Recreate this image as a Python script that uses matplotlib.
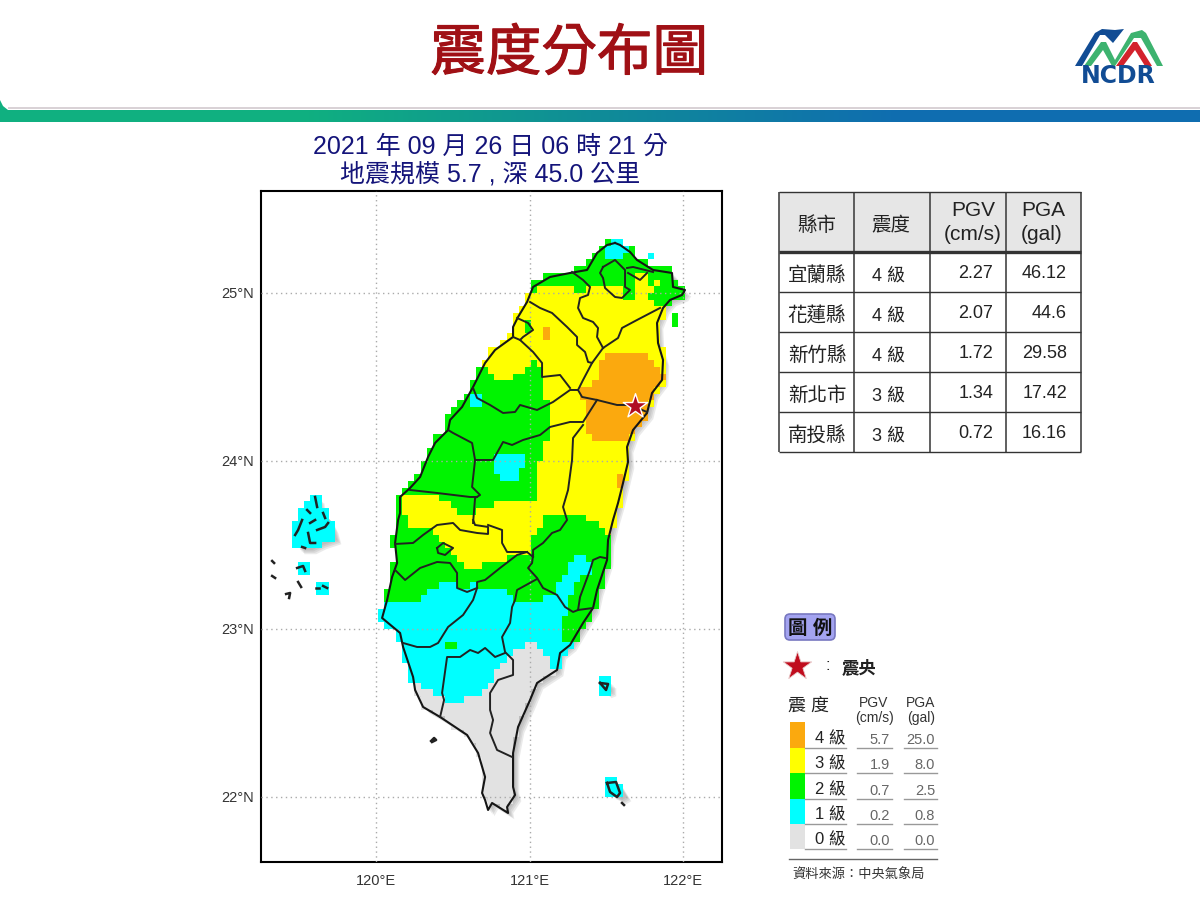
import numpy as np
import matplotlib
matplotlib.use("Agg")
import matplotlib.pyplot as plt
import matplotlib.patheffects as pe
from matplotlib.colors import ListedColormap, LinearSegmentedColormap
from matplotlib.patches import FancyBboxPatch, Polygon, Rectangle
from matplotlib.path import Path

plt.rcParams["font.family"] = ["Liberation Sans", "Noto Sans CJK TC", "DejaVu Sans"]

TITLE = "震度分布圖"
SUB_1 = "2021 年 09 月 26 日 06 時 21 分"
SUB_2 = "地震規模 5.7 , 深 45.0 公里"

TABLE_COUNTY = ["宜蘭縣", "花蓮縣", "新竹縣", "新北市", "南投縣"]
TABLE_LEVEL = ["4 級", "4 級", "4 級", "3 級", "3 級"]
TABLE_PGV = ["2.27", "2.07", "1.72", "1.34", "0.72"]
TABLE_PGA = ["46.12", "44.6", "29.58", "17.42", "16.16"]

LEGEND_LEVEL = ["4 級", "3 級", "2 級", "1 級", "0 級"]
LEGEND_PGV = ["5.7", "1.9", "0.7", "0.2", "0.0"]
LEGEND_PGA = ["25.0", "8.0", "2.5", "0.8", "0.0"]
LEVEL_COLORS = ["#E2E2E2", "#00FFFF", "#00F400", "#FFFF00", "#FBA90E"]

EPICENTER = (121.69, 24.33)

# outlines below as (x, y) pixels, converted to lon/lat later
COAST = [(615, 243), (620, 245), (630, 252), (637, 260), (653, 270), (672, 273), (673, 287),
         (685, 290), (682, 295), (670, 300), (663, 308), (657, 323), (658, 343), (663, 360),
         (662, 380), (652, 393), (647, 413), (633, 430), (627, 447), (628, 462), (623, 483),
         (618, 503), (613, 520), (608, 540), (607, 560), (597, 590), (593, 608), (583, 623),
         (570, 645), (560, 653), (557, 670), (537, 683), (530, 700), (518, 727), (513, 753),
         (513, 787), (515, 795), (507, 807), (508, 813), (500, 808), (492, 803), (488, 810),
         (485, 800), (482, 793), (485, 777), (478, 753), (467, 735), (440, 717), (423, 707),
         (415, 690), (413, 677), (403, 647), (400, 633), (382, 618), (387, 600), (392, 577),
         (397, 563), (395, 543), (398, 520), (400, 513), (400, 497), (410, 488), (420, 477),
         (428, 457), (435, 443), (448, 430), (450, 420), (462, 407), (473, 387), (485, 363),
         (495, 350), (513, 337), (513, 327), (518, 317), (527, 302), (533, 287), (550, 277),
         (570, 273), (587, 270), (597, 253), (607, 245)]

PENGHU = [(313, 497), (318, 497), (320, 510), (327, 517), (332, 527), (335, 538), (320, 543),
          (310, 548), (298, 548), (295, 533), (298, 520), (305, 507)]
GREEN_ISLAND = [(600, 682), (610, 682), (610, 690), (605, 692)]
LANYU = [(607, 782), (617, 782), (625, 795), (620, 798), (610, 793)]
PENGHU_S1 = [(300, 566), (306, 566), (306, 572), (300, 572)]
PENGHU_S2 = [(316, 585), (329, 584), (329, 590), (316, 590)]
OFFSHORE_N = [(649, 256), (652, 256), (652, 260), (649, 260)]
OFFSHORE_E = [(672, 317), (679, 317), (679, 323), (672, 323)]

LEVEL1 = [(370, 683), (415, 683), (420, 688), (442, 697), (450, 702), (460, 700), (477, 695),
          (492, 680), (498, 667), (507, 658), (517, 647), (533, 645), (545, 648), (547, 660),
          (557, 672), (700, 672), (700, 190), (370, 190)]
LEVEL2 = [(370, 598), (387, 602), (400, 605), (417, 605), (423, 595), (433, 590), (438, 585),
          (450, 580), (457, 588), (473, 585), (485, 588), (505, 592), (517, 600), (537, 600),
          (550, 597), (562, 595), (567, 608), (562, 620), (560, 630), (567, 645), (583, 645),
          (700, 630), (700, 190), (370, 190)]
LEVEL3 = [(370, 497), (403, 497), (403, 515), (410, 525), (427, 528), (435, 535), (445, 542),
          (453, 550), (457, 562), (467, 568), (482, 565), (498, 562), (517, 552), (530, 552),
          (533, 540), (540, 527), (547, 515), (570, 513), (587, 517), (600, 527), (610, 537),
          (700, 537), (700, 190), (370, 190)]
GREEN_NW = [(485, 367), (488, 372), (498, 378), (513, 378), (523, 370), (533, 362), (540, 363),
            (545, 377), (545, 400), (552, 407), (552, 427), (547, 433), (545, 460), (540, 463),
            (540, 487), (537, 500), (513, 502), (493, 505), (473, 512), (472, 517), (460, 517),
            (450, 505), (437, 495), (403, 493), (370, 493), (370, 367)]
GREEN_N = [(530, 295), (538, 288), (548, 288), (550, 285), (567, 285), (573, 290), (585, 290),
           (590, 285), (620, 285), (622, 302), (637, 302), (637, 285), (653, 285), (658, 275),
           (658, 285), (650, 293), (648, 298), (660, 307), (690, 302), (690, 230), (530, 230)]
GREEN_SPOT_1 = [(525, 323), (533, 323), (533, 333), (525, 333)]
GREEN_SPOT_2 = [(448, 644), (456, 644), (456, 652), (448, 652)]
YELLOW_SPOT = [(637, 272), (648, 272), (648, 283), (637, 283)]
CYAN_N = [(605, 247), (610, 240), (620, 240), (627, 250), (625, 258), (615, 262), (608, 258)]
CYAN_W = [(472, 395), (479, 395), (479, 408), (472, 408)]
CYAN_C = [(490, 467), (497, 455), (507, 452), (522, 455), (522, 467), (516, 478), (505, 480),
          (495, 475)]
CYAN_SE = [(553, 592), (562, 578), (570, 562), (578, 555), (590, 562), (592, 570), (577, 583),
           (568, 598), (567, 607), (560, 595)]
ORANGE_MAIN = [(607, 355), (648, 355), (658, 367), (665, 373), (664, 380), (650, 400), (647, 415),
               (633, 430), (630, 438), (617, 442), (597, 442), (587, 430), (583, 400), (583, 390),
               (597, 377), (600, 362)]
ORANGE_SPOT = [(545, 329), (552, 329), (552, 337), (545, 337)]
ORANGE_SLIVER = [(618, 472), (625, 472), (625, 487), (618, 487)]

# painted in this order, later ones win
ZONES = [(LEVEL1, 1), (LEVEL2, 2), (LEVEL3, 3), (GREEN_NW, 2), (GREEN_N, 2), (GREEN_SPOT_1, 2),
         (GREEN_SPOT_2, 2), (YELLOW_SPOT, 3), (CYAN_N, 1), (CYAN_W, 1), (CYAN_C, 1),
         (CYAN_SE, 1), (ORANGE_MAIN, 4), (ORANGE_SPOT, 4), (ORANGE_SLIVER, 4)]
# small land bits take one flat level, whatever cell they touch
ISLANDS = [(PENGHU, 1), (PENGHU_S1, 1), (PENGHU_S2, 1), (GREEN_ISLAND, 1), (LANYU, 1),
           (OFFSHORE_N, 1), (OFFSHORE_E, 2)]

BORDERS = [
    [(572, 272), (583, 280), (590, 287), (588, 295), (580, 298), (578, 308), (583, 318), (593, 322),
     (598, 328), (597, 337), (603, 348)],
    [(603, 348), (618, 338), (622, 328), (637, 320), (660, 308)],
    [(530, 302), (540, 308), (552, 313), (567, 327), (577, 337), (577, 345), (585, 352), (588, 362),
     (592, 363), (603, 348)],
    [(517, 318), (528, 323), (533, 330), (523, 337), (520, 340), (533, 352), (542, 363), (542, 377),
     (560, 375), (570, 388)],
    [(513, 337), (520, 340)],
    [(592, 363), (583, 380), (578, 390)],
    [(473, 388), (477, 398), (490, 405), (503, 413), (515, 412), (520, 405), (537, 410), (553, 402),
     (570, 390), (578, 390)],
    [(578, 390), (582, 397), (597, 400), (617, 405), (628, 405), (637, 408), (647, 412)],
    [(597, 400), (583, 422), (570, 422), (550, 427), (540, 435), (523, 440), (512, 445), (503, 442),
     (493, 460), (475, 460), (472, 443), (453, 433), (448, 430)],
    [(583, 425), (573, 438), (572, 460), (568, 490), (563, 507), (567, 520), (560, 530), (552, 533),
     (543, 543), (533, 550), (533, 555)],
    [(475, 460), (472, 487), (480, 495), (475, 498), (473, 523)],
    [(410, 490), (437, 493), (470, 497), (477, 497)],
    [(395, 544), (413, 543), (423, 535), (437, 525), (453, 523), (460, 530), (477, 533), (488, 534),
     (488, 527), (475, 525), (473, 520)],
    [(488, 525), (502, 530), (502, 543), (507, 552), (527, 552), (533, 557)],
    [(437, 548), (443, 543), (453, 548), (445, 555), (438, 553), (437, 548)],
    [(395, 570), (405, 580), (420, 568), (437, 562), (450, 563), (457, 573), (457, 588), (467, 592),
     (477, 588), (477, 582), (485, 580), (500, 568), (517, 555), (527, 552)],
    [(477, 588), (473, 600), (463, 615), (448, 627), (438, 643), (430, 647), (417, 647), (403, 643)],
    [(533, 555), (532, 563), (528, 568), (537, 578), (543, 588), (557, 595), (565, 607), (573, 612),
     (578, 610), (580, 597), (590, 570), (593, 560), (600, 557), (605, 558)],
    [(578, 610), (593, 608)],
    [(537, 579), (517, 590), (515, 600), (512, 607), (510, 623), (502, 637), (505, 652), (513, 660),
     (513, 675), (498, 680), (490, 693), (490, 710), (493, 720), (490, 733), (497, 750), (512, 757)],
    [(440, 717), (444, 700), (442, 693), (447, 657), (460, 657), (470, 650), (478, 653), (485, 648),
     (495, 657), (505, 653)],
    [(603, 267), (615, 260), (625, 270), (625, 287), (630, 290), (622, 298), (615, 297), (605, 288),
     (603, 278), (600, 273), (603, 267)],
    [(627, 268), (633, 267), (653, 272)],
    [(628, 273), (640, 280), (647, 273)],
]
ISLET_LINES = [
    [(315, 497), (317, 507)], [(307, 510), (310, 513)], [(323, 513), (325, 518)],
    [(302, 520), (298, 530), (295, 535)], [(310, 523), (315, 520)], [(308, 533), (310, 543), (315, 543)],
    [(317, 530), (325, 527), (328, 523)], [(302, 547), (305, 548)], [(272, 561), (274, 563)],
    [(297, 568), (303, 566), (305, 571)], [(272, 576), (275, 578)], [(298, 582), (301, 587)],
    [(286, 594), (290, 593), (289, 598)], [(316, 588), (319, 588)], [(323, 586), (327, 588)],
    [(431, 741), (434, 738), (436, 740), (432, 742)], [(600, 683), (608, 684), (606, 690), (600, 683)],
    [(607, 783), (616, 782), (620, 793), (617, 797), (610, 792), (607, 783)], [(622, 803), (624, 805)],
]

LOGO_BLUE = [(1075, 66), (1095, 33), (1102, 29), (1115, 30), (1124, 29), (1113, 43), (1105, 35),
             (1100, 35), (1082, 66)]
LOGO_GREEN = [(1084, 66), (1101, 42), (1106, 42), (1115, 60), (1131, 33), (1142, 30), (1146, 33),
              (1163, 66), (1157, 66), (1141, 38), (1134, 38), (1115, 66), (1112, 66), (1103, 50),
              (1091, 66)]
LOGO_RED = [(1116, 66), (1133, 42), (1137, 42), (1152, 66), (1145, 66), (1135, 50), (1123, 66)]

OFFSETS = [(0, 0), (-0.016, -0.016), (0.016, -0.016), (-0.016, 0.016), (0.016, 0.016)]


def to_lonlat(points):
    pts = np.array(points, dtype=float)
    lon = 120 + (pts[:, 0] - 376) / 153.5
    lat = 25 - (pts[:, 1] - 293) / 168.0
    return np.column_stack([lon, lat])


def touches(poly, centers):
    path = Path(to_lonlat(poly))
    hit = np.zeros(len(centers), dtype=bool)
    for dx, dy in OFFSETS:
        hit |= path.contains_points(centers + [dx, dy])
    return hit


def intensity_grid():
    lons = np.arange(119.25, 122.26, 0.04)
    lats = np.arange(21.6, 25.62, 0.04)
    lon_c, lat_c = np.meshgrid((lons[:-1] + lons[1:]) / 2, (lats[:-1] + lats[1:]) / 2)
    centers = np.column_stack([lon_c.ravel(), lat_c.ravel()])

    level = np.zeros(len(centers))
    for poly, value in ZONES:
        level[Path(to_lonlat(poly)).contains_points(centers)] = value

    # coloured cells spill over the coast a little, the grey ones do not
    inside = Path(to_lonlat(COAST)).contains_points(centers)
    land = inside | (touches(COAST, centers) & (level >= 1))
    for poly, value in ISLANDS:
        hit = touches(poly, centers)
        level[hit] = value
        land |= hit
    return lons, lats, np.ma.masked_where(~land, level).reshape(lon_c.shape)


fig = plt.figure(figsize=(12, 9), dpi=100, facecolor="white")

# page layer in pixel coordinates: header, table, legend
page = fig.add_axes([0, 0, 1, 1])
page.set_xlim(0, 1200)
page.set_ylim(900, 0)
page.axis("off")

band = LinearSegmentedColormap.from_list("band", ["#10B080", "#10B080", "#0F8C98", "#0F6DB0", "#0F6DB0"])
page.imshow(np.linspace(0, 1, 256).reshape(1, -1), cmap=band, extent=(0, 1200, 122, 110), aspect="auto", zorder=1)
page.set_xlim(0, 1200)
page.set_ylim(900, 0)
page.add_patch(Rectangle((8, 107), 1192, 2, color="#D9D2D6", lw=0, zorder=2))
page.add_patch(Polygon([(0, 100), (3, 106), (8, 110), (0, 110)], color="#10B080", lw=0, zorder=1))

page.text(569, 56, TITLE, fontsize=40, color="#A01015", ha="center", va="center",
          path_effects=[pe.withStroke(linewidth=0.8, foreground="#A01015")])
page.text(490, 147, SUB_1, fontsize=18, color="#14147A", ha="center", va="center")
page.text(490, 174, SUB_2, fontsize=18, color="#14147A", ha="center", va="center")

page.add_patch(Polygon(LOGO_BLUE, color="#114C94", lw=0))
page.add_patch(Polygon(LOGO_GREEN, color="#3DB36F", lw=0))
page.add_patch(Polygon(LOGO_RED, color="#D3222C", lw=0))
page.text(1118, 76, "NCDR", fontsize=17, fontweight="bold", family="DejaVu Sans", color="#114C94",
          ha="center", va="center")

# table
col_x = [779, 854, 930, 1006, 1081]
row_y = [192, 252, 292, 332, 372, 412, 452]
page.add_patch(Rectangle((779, 192), 302, 60, color="#E6E6E6", lw=0))
for x in col_x:
    page.plot([x, x], [row_y[0], row_y[-1]], color="#444444", lw=1.2, solid_capstyle="butt")
for y in row_y:
    page.plot([col_x[0], col_x[-1]], [y, y], color="#333333", lw=2.4 if y == 252 else 1.0, solid_capstyle="butt")
page.text(817, 226, "縣市", fontsize=14, ha="center", va="center", color="#222222")
page.text(891, 226, "震度", fontsize=14, ha="center", va="center", color="#222222")
page.text(973, 211, "PGV", fontsize=15, ha="center", va="center", color="#222222")
page.text(973, 235, "(cm/s)", fontsize=15, ha="center", va="center", color="#222222")
page.text(1043, 211, "PGA", fontsize=15, ha="center", va="center", color="#222222")
page.text(1042, 235, "(gal)", fontsize=15, ha="center", va="center", color="#222222")
row_c = [273, 313, 353, 393, 433]
for i in range(5):
    page.text(817, row_c[i] + 3, TABLE_COUNTY[i], fontsize=14, ha="center", va="center", color="#222222")
    page.text(889, row_c[i] + 3, TABLE_LEVEL[i], fontsize=13, ha="center", va="center", color="#222222")
    page.text(993, row_c[i] + 1, TABLE_PGV[i], fontsize=13, ha="right", va="center", color="#222222")
    page.text(1067, row_c[i] + 1, TABLE_PGA[i], fontsize=13, ha="right", va="center", color="#222222")

# legend
page.add_patch(FancyBboxPatch((785, 614), 50, 26, boxstyle="round,pad=0,rounding_size=5", fc="#A3A3F0",
                              ec="#7878C0", lw=1.2))
page.text(810, 629, "圖 例", fontsize=14, fontweight="bold", ha="center", va="center", color="#111111")
page.scatter([797], [666], marker="*", s=460, color="#C00D1E", edgecolor="#E8C8C8", linewidth=0.6)
page.text(828, 666, ":", fontsize=12, ha="center", va="center", color="#222222")
page.text(859, 668, "震央", fontsize=12.5, fontweight="bold", ha="center", va="center", color="#222222")
page.text(809, 706, "震 度", fontsize=13, ha="center", va="center", color="#222222")
page.text(874, 703, "PGV", fontsize=10, ha="center", va="center", color="#333333")
page.text(874, 718, "(cm/s)", fontsize=10, ha="center", va="center", color="#333333")
page.text(921, 703, "PGA", fontsize=10, ha="center", va="center", color="#333333")
page.text(921, 718, "(gal)", fontsize=10, ha="center", va="center", color="#333333")
swatch_y = [722, 748, 773, 799, 824, 849]
for i in range(5):
    color = LEVEL_COLORS[4 - i]
    page.add_patch(Rectangle((790, swatch_y[i]), 15, swatch_y[i + 1] - swatch_y[i], color=color, lw=0))
    y = swatch_y[i + 1]
    page.plot([805, 846], [y, y], color="#999999", lw=1)
    page.plot([857, 892], [y, y], color="#999999", lw=1)
    page.plot([904, 937], [y, y], color="#999999", lw=1)
    page.text(830, y - 9, LEGEND_LEVEL[i], fontsize=12, ha="center", va="center", color="#222222")
    page.text(890, y - 8, LEGEND_PGV[i], fontsize=10.5, ha="right", va="center", color="#666666")
    page.text(935, y - 8, LEGEND_PGA[i], fontsize=10.5, ha="right", va="center", color="#666666")
page.plot([789, 937], [859, 859], color="#666666", lw=1)
page.text(792, 875, "資料來源：中央氣象局", fontsize=9.5, ha="left", va="center", color="#333333")

# map
ax = fig.add_axes([261 / 1200, 1 - 862 / 900, 461 / 1200, 671 / 900])
ax.set_xlim(119.25, 122.254)
ax.set_ylim(21.613, 25.607)

shadow = [pe.SimplePatchShadow(offset=(o, -o), shadow_rgbFace="#808080", alpha=0.16) for o in (4.5, 3.5, 2.5, 1.5)]
for part in [COAST, PENGHU, GREEN_ISLAND, LANYU]:
    ax.add_patch(Polygon(to_lonlat(part), fc="none", ec="none", zorder=1, path_effects=shadow + [pe.Normal()]))

lons, lats, levels = intensity_grid()
ax.pcolormesh(lons, lats, levels, cmap=ListedColormap(LEVEL_COLORS), vmin=-0.5, vmax=4.5, zorder=2)

ax.set_xticks([120, 121, 122])
ax.set_xticklabels(["120°E", "121°E", "122°E"])
ax.set_yticks([22, 23, 24, 25])
ax.set_yticklabels(["22°N", "23°N", "24°N", "25°N"])
ax.tick_params(axis="x", length=0, labelsize=10.5, labelcolor="#333333", pad=8.5)
ax.tick_params(axis="y", length=0, labelsize=10.5, labelcolor="#333333", pad=5)
ax.grid(True, color="#AAAAAA", linestyle=(0, (1, 2.5)), linewidth=1.0, zorder=3)
ax.set_axisbelow(False)

coast = to_lonlat(COAST + COAST[:1])
ax.plot(coast[:, 0], coast[:, 1], color="#151515", lw=1.5, zorder=4)
for line in BORDERS:
    pts = to_lonlat(line)
    ax.plot(pts[:, 0], pts[:, 1], color="#222222", lw=1.4, zorder=4)
for line in ISLET_LINES:
    pts = to_lonlat(line)
    ax.plot(pts[:, 0], pts[:, 1], color="#222222", lw=1.8, zorder=4)

ax.scatter([EPICENTER[0]], [EPICENTER[1]], marker="*", s=340, color="#B00D22", edgecolor="white",
           linewidth=1.0, zorder=5)
for side in ax.spines.values():
    side.set_linewidth(1.5)
    side.set_color("black")

fig.savefig("out.png", dpi=100)
